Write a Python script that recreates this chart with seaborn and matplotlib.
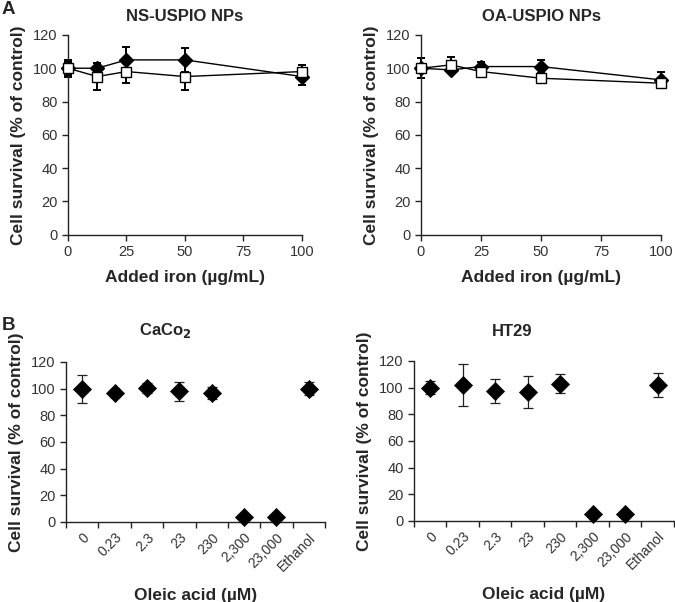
import numpy as np
import pandas as pd
import matplotlib
matplotlib.use("Agg")
import matplotlib.pyplot as plt
import seaborn as sns

# ---- Data ----
iron = [0, 12.5, 25, 50, 100]
ns_filled = [100, 100, 105, 105, 95]
ns_filled_err = [5, 3, 8, 7, 5]
ns_open = [100, 95, 98, 95, 98]
ns_open_err = [4, 8, 7, 8, 4]

oa_filled = [100, 99, 101, 101, 93]
oa_filled_err = [6, 2, 3, 4, 5]
oa_open = [100, 102, 98, 94, 91]
oa_open_err = [6, 5, 2, 2, 3]

oleic_labels = ["0", "0.23", "2.3", "23", "230", "2,300", "23,000", "Ethanol"]
caco2 = [100, 97, 100.5, 98, 97, 4, 4, 100]
caco2_err = [10.5, 3, 4, 7, 4.5, 0, 0, 5]
ht29 = [100, 102, 97.5, 97, 103, 5, 5, 102]
ht29_err = [5, 16, 9, 12, 7, 0, 0, 9]

sns.set_style("ticks")
plt.rcParams['font.family'] = ['Liberation Sans', 'DejaVu Sans']

fig = plt.figure(figsize=(6.75, 6.02), dpi=100)

TICK_COLOR = "#333333"


def style_axes(ax):
    sns.despine(ax=ax)
    for s in ["left", "bottom"]:
        ax.spines[s].set_color("#222222")
        ax.spines[s].set_linewidth(1.0)
    ax.tick_params(axis="both", labelsize=10.5, labelcolor=TICK_COLOR,
                   color="#222222", length=4, width=1.0, direction="out")
    ax.set_ylim(0, 120)
    ax.set_yticks([0, 20, 40, 60, 80, 100, 120])


def iron_panel(rect, title, filled, filled_err, opened, opened_err):
    ax = fig.add_axes(rect)
    df = pd.DataFrame({"x": iron * 2, "y": filled + opened,
                       "s": ["filled"] * len(iron) + ["open"] * len(iron)})
    ax.errorbar(iron, filled, yerr=filled_err, fmt="none", ecolor="black",
                elinewidth=1.4, capsize=3, capthick=1.4, clip_on=False, zorder=2)
    ax.errorbar(iron, opened, yerr=opened_err, fmt="none", ecolor="black",
                elinewidth=1.4, capsize=3, capthick=1.4, clip_on=False, zorder=2)
    sns.lineplot(data=df, x="x", y="y", hue="s", style="s",
                 palette={"filled": "black", "open": "black"},
                 markers={"filled": "D", "open": "s"}, dashes=False,
                 linewidth=1.0, markersize=7, legend=False, ax=ax,
                 markeredgecolor="black", markeredgewidth=1.0, zorder=3)
    for ln in ax.get_lines():
        ln.set_clip_on(False)
        if ln.get_marker() == "s":
            ln.set_markerfacecolor("white")
    ax.set_xlim(0, 100)
    ax.set_xticks([0, 25, 50, 75, 100])
    style_axes(ax)
    ax.set_xlabel("Added iron (\u00b5g/mL)", fontsize=12.5, fontweight="bold", labelpad=8)
    ax.set_ylabel("Cell survival (% of control)", fontsize=12.5, fontweight="bold", labelpad=5)
    ax.set_title(title, fontsize=12, fontweight="bold", pad=10)
    return ax


def oleic_panel(rect, values, errs):
    ax = fig.add_axes(rect)
    pos = list(range(len(oleic_labels)))
    df = pd.DataFrame({"x": pos, "y": values})
    ax.errorbar(pos, values, yerr=errs, fmt="none", ecolor="#222222",
                elinewidth=0.9, capsize=3.5, capthick=0.9, zorder=2)
    sns.scatterplot(data=df, x="x", y="y", marker="D", s=85, color="black",
                    edgecolor="black", linewidth=0.5, ax=ax, zorder=3, clip_on=False)
    ax.set_xlim(-0.5, len(oleic_labels) - 0.5)
    style_axes(ax)
    ax.set_xticks(np.arange(-0.5, len(oleic_labels), 1.0))
    ax.set_xticklabels([])
    ax.set_xticks(pos, minor=True)
    ax.set_xticklabels(oleic_labels, minor=True, rotation=45, ha="right",
                       rotation_mode="anchor", fontsize=10, color=TICK_COLOR)
    ax.tick_params(axis="x", which="minor", length=0, pad=6)
    ax.set_xlabel("Oleic acid (\u00b5M)", fontsize=12.5, fontweight="bold", labelpad=10)
    ax.set_ylabel("Cell survival (% of control)", fontsize=12.5, fontweight="bold", labelpad=5)
    return ax


iron_panel([0.1007, 0.610, 0.3467, 0.332], "NS-USPIO NPs",
           ns_filled, ns_filled_err, ns_open, ns_open_err)
iron_panel([0.6237, 0.610, 0.3556, 0.332], "OA-USPIO NPs",
           oa_filled, oa_filled_err, oa_open, oa_open_err)

oleic_panel([0.0978, 0.1329, 0.3837, 0.2658], caco2, caco2_err)
oleic_panel([0.6133, 0.1346, 0.3852, 0.2658], ht29, ht29_err)

fig.text(165 / 675, 1 - 330 / 602, "CaCo$_\\mathregular{\\mathbf{2}}$", ha="center", va="center",
         fontsize=12, fontweight="bold")
fig.text(512 / 675, 1 - 332 / 602, "HT29", ha="center", va="center",
         fontsize=12, fontweight="bold")

fig.text(0.003, 1 - 10 / 602, "A", ha="left", va="center", fontsize=13.5, fontweight="bold")
fig.text(0.003, 1 - 325 / 602, "B", ha="left", va="center", fontsize=13.5, fontweight="bold")

fig.savefig("out.png", dpi=100)
